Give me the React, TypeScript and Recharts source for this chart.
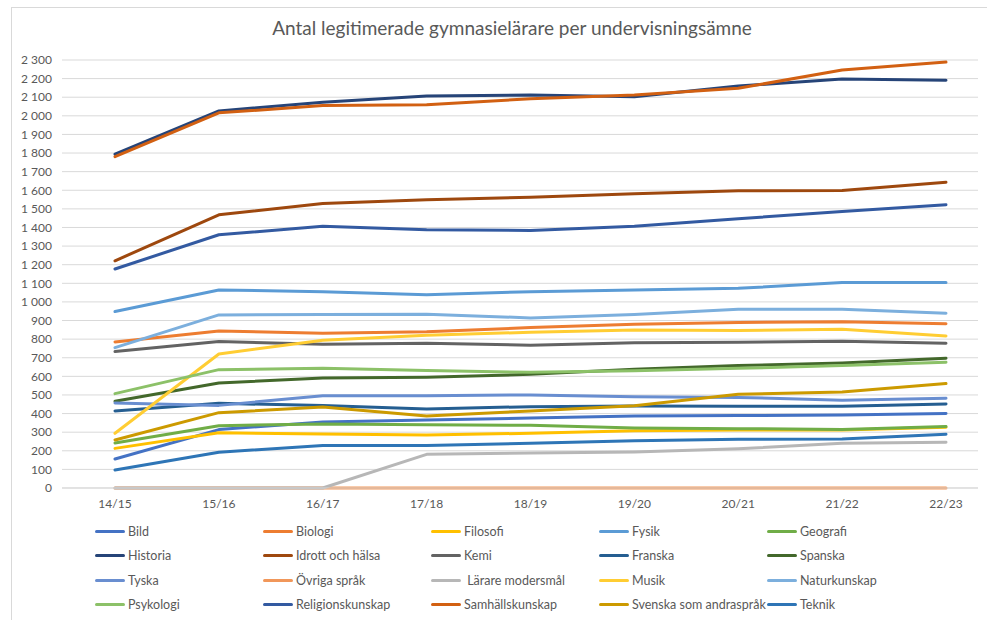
import React from 'react';
import { LineChart, Line, XAxis, YAxis, CartesianGrid } from 'recharts';

const years = ['14/15', '15/16', '16/17', '17/18', '18/19', '19/20', '20/21', '21/22', '22/23'];

const bild = [156, 314, 355, 366, 376, 387, 389, 392, 401];
const biologi = [785, 844, 831, 840, 862, 880, 889, 894, 883];
const filosofi = [213, 297, 290, 285, 294, 308, 312, 312, 326];
const fysik = [948, 1064, 1055, 1038, 1055, 1064, 1073, 1104, 1104];
const geografi = [242, 335, 344, 340, 337, 323, 319, 315, 330];
const historia = [1794, 2026, 2073, 2107, 2112, 2103, 2160, 2198, 2191];
const idrott = [1221, 1468, 1529, 1549, 1562, 1581, 1597, 1599, 1643];
const kemi = [733, 787, 772, 778, 767, 781, 783, 788, 778];
const franska = [414, 455, 443, 425, 437, 441, 439, 439, 452];
const spanska = [466, 564, 591, 595, 611, 638, 658, 672, 697];
const tyska = [457, 444, 496, 496, 500, 491, 487, 471, 482];
const ovrigaSprak = [0, 0, 0, 0, 0, 0, 0, 0, 0];
const modersmal = [0, 0, 0, 181, 188, 194, 211, 240, 246];
const musik = [294, 720, 794, 821, 837, 849, 846, 853, 817];
const naturkunskap = [754, 930, 932, 934, 914, 932, 960, 960, 939];
const psykologi = [507, 636, 643, 631, 622, 630, 643, 658, 676];
const religion = [1177, 1361, 1406, 1388, 1384, 1406, 1447, 1486, 1522];
const samhalle = [1781, 2016, 2055, 2059, 2092, 2112, 2148, 2246, 2289];
const svenskaAndra = [258, 405, 435, 387, 414, 442, 504, 516, 561];
const teknik = [97, 192, 229, 228, 240, 254, 262, 263, 289];

const yTicks = [0, 100, 200, 300, 400, 500, 600, 700, 800, 900, 1000, 1100, 1200,
  1300, 1400, 1500, 1600, 1700, 1800, 1900, 2000, 2100, 2200, 2300];

const series = [
  { name: 'Bild', values: bild },
  { name: 'Biologi', values: biologi },
  { name: 'Filosofi', values: filosofi },
  { name: 'Fysik', values: fysik },
  { name: 'Geografi', values: geografi },
  { name: 'Historia', values: historia },
  { name: 'Idrott och hälsa', values: idrott },
  { name: 'Kemi', values: kemi },
  { name: 'Franska', values: franska },
  { name: 'Spanska', values: spanska },
  { name: 'Tyska', values: tyska },
  { name: 'Övriga språk', values: ovrigaSprak },
  { name: ' Lärare modersmål', values: modersmal },
  { name: 'Musik', values: musik },
  { name: 'Naturkunskap', values: naturkunskap },
  { name: 'Psykologi', values: psykologi },
  { name: 'Religionskunskap', values: religion },
  { name: 'Samhällskunskap', values: samhalle },
  { name: 'Svenska som andraspråk', values: svenskaAndra },
  { name: 'Teknik', values: teknik },
];

const COLORS = [
  '#4472C4', '#ED7D31', '#FFC000', '#5B9BD5', '#70AD47',
  '#264478', '#9E480E', '#636363', '#255E91', '#43682B',
  '#698ED0', '#F1975A', '#B7B7B7', '#FFCD33', '#7CAFDD',
  '#8CC168', '#335AA1', '#D26012', '#CC9A00', '#2E75B6',
];

const FONT = 'Lato, "Open Sans", sans-serif';
const TEXT = '#595959';

const data = years.map((year, i) => {
  const row: Record<string, string | number> = { year };
  series.forEach(s => { row[s.name] = s.values[i]; });
  return row;
});

const formatNum = (v: number) =>
  v >= 1000 ? `${Math.floor(v / 1000)} ${String(v % 1000).padStart(3, '0')}` : String(v);

export default function App() {
  return (
    <div style={{ position: 'absolute', left: 0, top: 0, width: 987, height: 620, background: '#fff', overflow: 'hidden', fontFamily: FONT }}>
      <div style={{ position: 'absolute', left: 11, top: 7, width: 1000, height: 700, border: '1px solid #D9D9D9' }} />

      <div style={{ position: 'absolute', left: 0, width: 1024, top: 16, textAlign: 'center', fontSize: 19, color: TEXT, whiteSpace: 'nowrap' }}>
        Antal legitimerade gymnasielärare per undervisningsämne
      </div>

      <div style={{ position: 'absolute', left: 0, top: 0 }}>
        <LineChart width={987} height={620} data={data} margin={{ top: 60, right: 9, left: 0, bottom: 102 }}>
          <CartesianGrid vertical={false} stroke="#D9D9D9" strokeWidth={1} />
          <XAxis
            dataKey="year"
            padding={{ left: 53, right: 32 }}
            axisLine={{ stroke: '#D9D9D9' }}
            tickLine={false}
            tickMargin={5}
            height={30}
            tick={{ fill: TEXT, fontSize: 12, fontFamily: FONT }}
          />
          <YAxis
            domain={[0, 2300]}
            ticks={yTicks}
            interval={0}
            width={62}
            axisLine={false}
            tickLine={false}
            tickMargin={4}
            tickFormatter={formatNum}
            tick={{ fill: TEXT, fontSize: 12, fontFamily: FONT }}
          />
          {series.map((s, i) => (
            <Line
              key={s.name}
              dataKey={s.name}
              stroke={COLORS[i]}
              strokeWidth={3}
              strokeLinecap="round"
              strokeLinejoin="round"
              dot={false}
              activeDot={false}
              isAnimationActive={false}
            />
          ))}
        </LineChart>
      </div>

      <div style={{ position: 'absolute', left: 95, top: 522, display: 'grid', gridTemplateColumns: 'repeat(5, 168px)', rowGap: 6 }}>
        {series.map((s, i) => (
          <div key={s.name} style={{ display: 'flex', alignItems: 'center', height: 18.5 }}>
            <span style={{ width: 30, height: 3, background: COLORS[i], borderRadius: 2, marginRight: 3 }} />
            <span style={{ fontSize: 12.5, color: TEXT, whiteSpace: 'pre' }}>{s.name}</span>
          </div>
        ))}
      </div>
    </div>
  );
}
